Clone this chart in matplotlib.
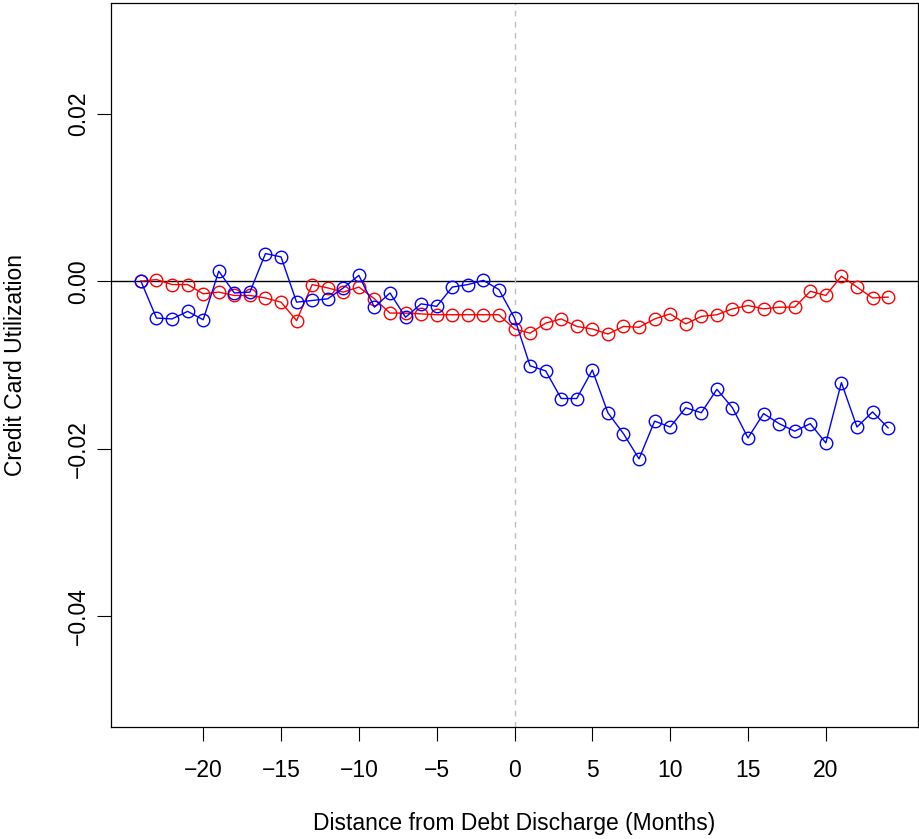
import numpy as np
import matplotlib
matplotlib.use("Agg")
import matplotlib.pyplot as plt

plt.rcParams['font.family'] = ['Liberation Sans', 'DejaVu Sans']

months = np.arange(-24, 25)

# blue series
blue = [0.0, -0.0044, -0.0045, -0.0036, -0.0046, 0.0012, -0.0014, -0.0013, 0.0033, 0.0029,
        -0.0025, -0.0023, -0.0021, -0.0008, 0.0007, -0.0031, -0.0014, -0.0043, -0.0027, -0.0030,
        -0.0007, -0.0004, 0.0001, -0.0010, -0.0044,
        -0.0101, -0.0107, -0.0140, -0.0140, -0.0106, -0.0157, -0.0182, -0.0212, -0.0167, -0.0174,
        -0.0151, -0.0157, -0.0129, -0.0151, -0.0187, -0.0158, -0.0170, -0.0179, -0.0170, -0.0193,
        -0.0121, -0.0174, -0.0156, -0.0175]

# red series
red = [0.0, 0.0002, -0.0004, -0.0004, -0.0015, -0.0013, -0.0017, -0.0017, -0.0020, -0.0025,
       -0.0047, -0.0004, -0.0008, -0.0013, -0.0007, -0.0021, -0.0038, -0.0038, -0.0039, -0.0040,
       -0.0040, -0.0040, -0.0040, -0.0040, -0.0057,
       -0.0062, -0.0050, -0.0045, -0.0054, -0.0057, -0.0063, -0.0054, -0.0055, -0.0045, -0.0039,
       -0.0051, -0.0042, -0.0040, -0.0033, -0.0029, -0.0033, -0.0031, -0.0031, -0.0012, -0.0017,
       0.0006, -0.0007, -0.0020, -0.0019]

xticks = [-20, -15, -10, -5, 0, 5, 10, 15, 20]
yticks = [-0.04, -0.02, 0.00, 0.02]

fig = plt.figure(figsize=(9.2, 8.39), dpi=100)
ax = fig.add_axes([0.1207, 0.1335, 0.8771, 0.8629])

ax.axhline(0, color='black', lw=1.0, zorder=1)
ax.axvline(0, color='#bebebe', lw=1.0, ls=(0, (4, 4)), zorder=1)

ax.plot(months, blue, color='blue', lw=1.0, marker='o', ms=9, mfc='none', mew=1.0, zorder=3)
ax.plot(months, red, color='red', lw=1.0, marker='o', ms=9, mfc='none', mew=1.0, zorder=2)

ax.set_xlim(-25.92, 25.92)
ax.set_ylim(-0.0532, 0.0332)
ax.set_xticks(xticks)
ax.set_xticklabels([str(t).replace('-', '\u2212') for t in xticks])
ax.set_yticks(yticks)
ax.set_yticklabels(['\u22120.04', '\u22120.02', '0.00', '0.02'], rotation=90, va='center')

ax.tick_params(direction='out', length=10, width=0.8, labelsize=16.5)
ax.tick_params(axis='x', pad=13)
ax.tick_params(axis='y', pad=5)
for s in ax.spines.values():
    s.set_linewidth(0.9)

ax.set_xlabel('Distance from Debt Discharge (Months)', fontsize=16.5, labelpad=22)
ax.set_ylabel('Credit Card Utilization', fontsize=16.5, labelpad=29)

fig.savefig('out.png', dpi=100)
